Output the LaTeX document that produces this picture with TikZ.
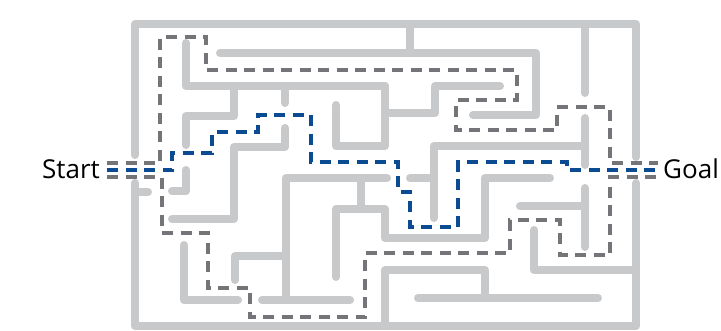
\documentclass[tikz,border=0pt]{standalone}
\usepackage{fontspec}
\setmainfont{Open Sans}
\definecolor{wallgray}{HTML}{C8C9CB}
\definecolor{pathgray}{HTML}{747578}
\definecolor{pathblue}{HTML}{0B4B91}
\begin{document}
\begin{tikzpicture}[x=1pt,y=-1pt,
  wall/.style={line width=8pt, draw=wallgray, line cap=round, line join=round},
  altroute/.style={line width=3.2pt, draw=pathgray, dash pattern=on 11pt off 7.5pt},
  solroute/.style={line width=3.2pt, draw=pathblue, dash pattern=on 11pt off 7.5pt},
  lbl/.style={font=\fontsize{26}{30}\selectfont, inner sep=0pt, text=black}]
\useasboundingbox (0,0) rectangle (721,330);
% outer frame
\draw[wall] (135,155) -- (135,24) -- (636,24) -- (636,157);
\draw[wall] (636,183) -- (636,326) -- (135,326) -- (135,183);
\draw[wall] (135,192) -- (148,192);
% inner walls
\draw[wall] (186,43) -- (186,86) -- (385,86);
\draw[wall] (220,53) -- (536,53) -- (536,115) -- (473,115);
\draw[wall] (410,24) -- (410,53);
\draw[wall] (585,24) -- (585,93);
\draw[wall] (234,86) -- (234,116) -- (186,116) -- (186,145);
\draw[wall] (285,86) -- (285,103);
\draw[wall] (336,105) -- (336,146) -- (385,146) -- (385,86);
\draw[wall] (385,113) -- (435,113) -- (435,86) -- (500,86);
\draw[wall] (285,128) -- (285,147) -- (234,147) -- (234,219) -- (172,219);
\draw[wall] (186,170) -- (186,191) -- (172,191);
\draw[wall] (434,218) -- (434,146) -- (585,146);
\draw[wall] (410,178) -- (434,178);
\draw[wall] (585,118) -- (585,165);
\draw[wall] (286,300) -- (286,178) -- (387,178);
\draw[wall] (361,178) -- (361,209);
\draw[wall] (336,277) -- (336,209) -- (385,209) -- (385,238) -- (485,238) -- (485,178) -- (550,178);
\draw[wall] (520,206) -- (585,206);
\draw[wall] (585,188) -- (585,247);
\draw[wall] (534,230) -- (534,270) -- (636,270);
\draw[wall] (184,245) -- (184,300) -- (238,300);
\draw[wall] (235,280) -- (235,256) -- (285,256);
\draw[wall] (262,300) -- (350,300);
\draw[wall] (385,326) -- (385,270) -- (485,270) -- (485,298);
\draw[wall] (418,298) -- (598,298);
% labels
\node[lbl, anchor=base east] (start) at (100,178) {Start};
\node[lbl, anchor=base west] (goal) at (663,178) {Goal};
% routes
\coordinate (s1) at (107,163); \coordinate (g1) at (658,163);
\coordinate (s2) at (107,170); \coordinate (g2) at (658,170);
\coordinate (s3) at (107,177); \coordinate (g3) at (658,177);
\draw[altroute] (s1) -- (160,163) -- (160,37) -- (206,37) -- (206,70) -- (517,70) -- (517,100) -- (456,100) -- (456,130) -- (557,130) -- (557,107) -- (610,107) -- (610,163) -- (g1);
\draw[altroute] (s3) -- (162,177) -- (162,233) -- (208,233) -- (208,288) -- (250,288) -- (250,317) -- (365,317) -- (365,253) -- (510,253) -- (510,220) -- (560,220) -- (560,255) -- (610,255) -- (610,177) -- (g3);
\draw[solroute] (s2) -- (172,170) -- (172,153) -- (212,153) -- (212,132) -- (258,132) -- (258,115) -- (311,115) -- (311,162) -- (398,162) -- (398,192) -- (410,192) -- (410,227) -- (458,227) -- (458,162) -- (567,162) -- (567,170) -- (g2);
\end{tikzpicture}
\end{document}
